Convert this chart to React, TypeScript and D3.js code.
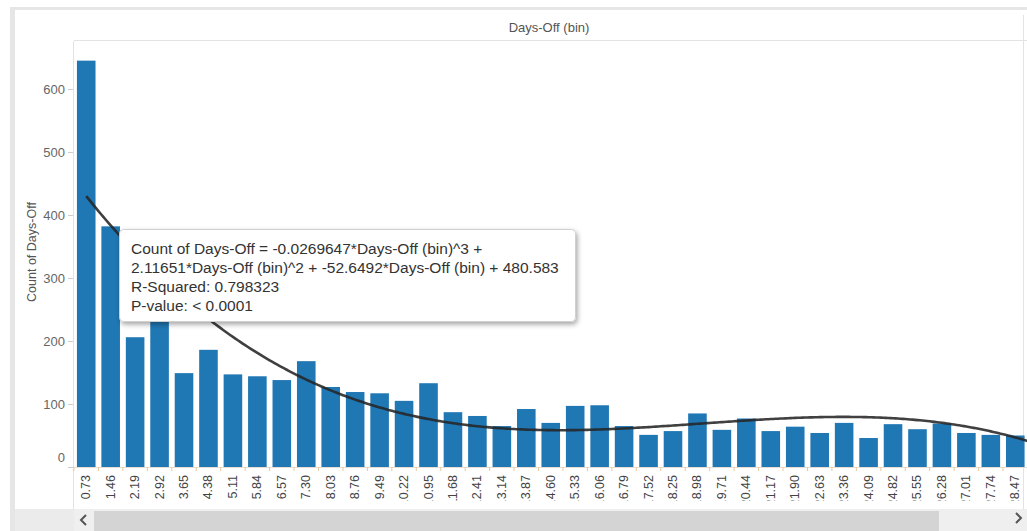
import React from "react";
import * as d3 from "d3";

const binLabels = [
  "0.73","1.46","2.19","2.92","3.65","4.38","5.11","5.84","6.57","7.30",
  "8.03","8.76","9.49","10.22","10.95","11.68","12.41","13.14","13.87","14.60",
  "15.33","16.06","16.79","17.52","18.25","18.98","19.71","20.44","21.17","21.90",
  "22.63","23.36","24.09","24.82","25.55","26.28","27.01","27.74","28.47",
];
const counts = [
  645, 382, 206, 235, 149, 186, 147, 144, 138, 168,
  127, 119, 117, 105, 133, 87, 81, 65, 92, 70,
  97, 98, 65, 51, 57, 85, 59, 77, 57, 64,
  54, 70, 46, 68, 60, 69, 54, 51, 50,
];
const yTicks = [0, 100, 200, 300, 400, 500, 600];
// cubic trend: Count = a*x^3 + b*x^2 + c*x + d
const trendCoef = [-0.0269647, 2.11651, -52.6492, 480.583];
const tooltipLines = [
  "Count of Days-Off = -0.0269647*Days-Off (bin)^3 +",
  "2.11651*Days-Off (bin)^2 + -52.6492*Days-Off (bin) + 480.583",
  "R-Squared: 0.798323",
  "P-value: < 0.0001",
];

const W = 1027;
const H = 531;
const FONT = "'Liberation Sans', Arial, sans-serif";

export default function App() {
  const plotL = 74;
  const plotR = 1023;
  const plotT = 41;
  const baseY = 467;
  const bandEnd = 1027.5;

  const x = d3
    .scaleBand<string>()
    .domain(binLabels)
    .range([plotL, bandEnd])
    .paddingInner(0.24)
    .paddingOuter(0.12);
  const step = x.step();
  const bw = x.bandwidth();

  const y = d3.scaleLinear().domain([0, 676.2]).range([baseY, plotT]);

  // trend line in bin-number units (bin k centered at band k-1)
  const xk = d3.scaleLinear().domain([0.5, binLabels.length + 0.5]).range([plotL, bandEnd]);
  const f = (k: number) =>
    trendCoef[0] * k * k * k + trendCoef[1] * k * k + trendCoef[2] * k + trendCoef[3];
  const ks = d3.range(1, binLabels.length + 0.75, 0.1);
  const line = d3
    .line<number>()
    .x((k) => xk(k))
    .y((k) => y(f(k)))
    .curve(d3.curveLinear);

  return (
    <svg
      width={W}
      height={H}
      style={{ position: "absolute", left: 0, top: 0, background: "#fff" }}
      fontFamily={FONT}
    >
      <defs>
        <clipPath id="plotClip">
          <rect x={plotL} y={plotT} width={W - plotL} height={baseY - plotT + 2} />
        </clipPath>
        <clipPath id="xLabClip">
          <rect x={plotL} y={468} width={W - plotL} height={32.5} />
        </clipPath>
        <filter id="shadow" x="-10%" y="-20%" width="120%" height="150%">
          <feDropShadow dx="1.5" dy="2.5" stdDeviation="2.5" floodColor="#000" floodOpacity="0.35" />
        </filter>
      </defs>

      {/* outer frame */}
      <rect x={0} y={0} width={W} height={H} fill="#fff" />
      <rect x={10} y={7} width={W - 10} height={3} fill="#e6e6e6" />
      <rect x={10} y={7} width={5} height={H - 7} fill="#e6e6e6" />

      {/* header */}
      <line x1={plotL} x2={W} y1={plotT - 0.5} y2={plotT - 0.5} stroke="#e3e3e3" />
      <text x={549} y={27} textAnchor="middle" dominantBaseline="central" fontSize={13} fill="#555">
        Days-Off (bin)
      </text>

      {/* plot frame */}
      <line x1={plotL - 0.5} x2={plotL - 0.5} y1={plotT} y2={509} stroke="#e3e3e3" />
      <line x1={plotR + 0.5} x2={plotR + 0.5} y1={15} y2={509} stroke="#e3e3e3" />

      {/* y axis */}
      {yTicks.map((t) => (
        <g key={t}>
          <line x1={68} x2={plotL - 1} y1={y(t) + 0.5} y2={y(t) + 0.5} stroke="#ccc" />
          <text
            x={65}
            y={t === 0 ? y(t) - 10 : y(t)}
            textAnchor="end"
            dominantBaseline="central"
            fontSize={13}
            fill="#666"
          >
            {t}
          </text>
        </g>
      ))}
      <text
        transform={`translate(32,252) rotate(-90)`}
        textAnchor="middle"
        dominantBaseline="central"
        fontSize={12.5}
        fill="#555"
      >
        Count of Days-Off
      </text>

      {/* bars */}
      <g clipPath="url(#plotClip)">
        {binLabels.map((b, i) => (
          <rect
            key={b}
            x={x(b)}
            y={y(counts[i])}
            width={bw}
            height={baseY - y(counts[i])}
            fill="#1f77b4"
          />
        ))}
        <path
          d={line(ks) || ""}
          fill="none"
          stroke="#262626"
          strokeOpacity={0.88}
          strokeWidth={2.6}
        />
      </g>

      {/* x axis */}
      <line x1={plotL} x2={W} y1={baseY + 0.5} y2={baseY + 0.5} stroke="#e8ddd0" />
      {binLabels.map((b, i) => (
        <line
          key={"t" + b}
          x1={plotL + i * step}
          x2={plotL + i * step}
          y1={baseY}
          y2={baseY + 4}
          stroke="#e3c9a3"
        />
      ))}
      <g clipPath="url(#xLabClip)">
        {binLabels.map((b) => (
          <text
            key={"l" + b}
            transform={`translate(${(x(b) as number) + bw / 2},475) rotate(-90)`}
            textAnchor="end"
            dominantBaseline="central"
            fontSize={12.5}
            fill="#444"
          >
            {b}
          </text>
        ))}
      </g>

      {/* scrollbar */}
      <rect x={15} y={509} width={plotL - 15} height={H - 509} fill="#ebebeb" />
      <rect x={plotL} y={509} width={W - plotL} height={H - 509} fill="#efefef" />
      <rect x={94} y={511} width={939 - 94} height={H - 511} fill="#d4d4d4" />
      <path d="M86,515 L81,520 L86,525" fill="none" stroke="#555" strokeWidth={2} />
      <path d="M1016,513 L1021,518 L1016,523" fill="none" stroke="#555" strokeWidth={2} />

      {/* tooltip */}
      <rect
        x={119.5}
        y={229.5}
        width={456}
        height={92}
        rx={4}
        fill="#fff"
        stroke="#d0d0d0"
        filter="url(#shadow)"
      />
      {tooltipLines.map((t, i) => (
        <text key={i} x={131} y={253.5 + i * 19} fontSize={15.5} fill="#333">
          {t}
        </text>
      ))}
    </svg>
  );
}
